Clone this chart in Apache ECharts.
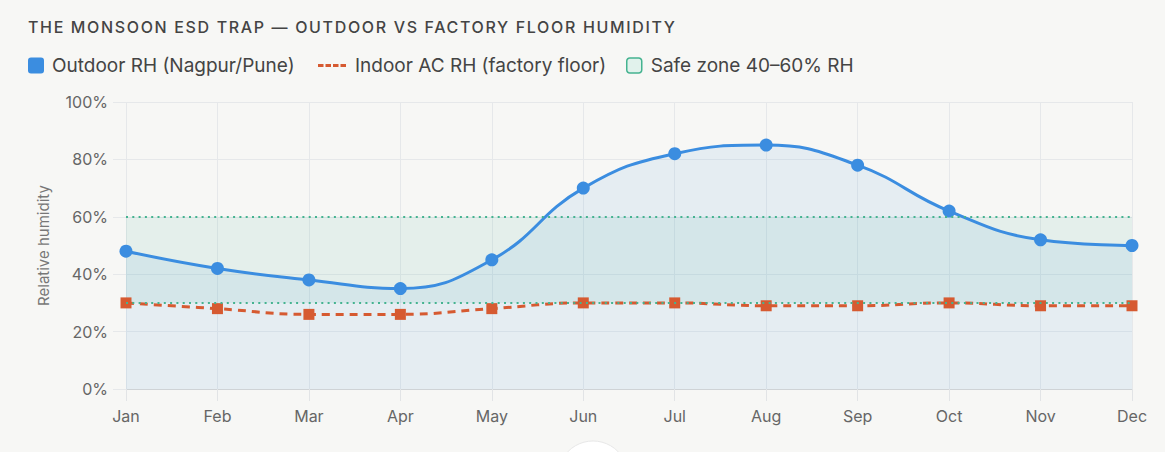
<!DOCTYPE html>
<html><head><meta charset="utf-8">
<script src="https://cdn.jsdelivr.net/npm/echarts@6/dist/echarts.min.js"></script>
<style>html,body{margin:0;padding:0;background:#f7f7f5;}#c{width:1165px;height:452px;}</style>
</head><body><div id="c"></div>
<script>
const months = ['Jan','Feb','Mar','Apr','May','Jun','Jul','Aug','Sep','Oct','Nov','Dec'];
const outdoorRH = [48, 42, 38, 35, 45, 70, 82, 85, 78, 62, 52, 50];
const indoorRH = [30, 28, 26, 26, 28, 30, 30, 29, 29, 30, 29, 29];
const safeLow = 30, safeHigh = 60;

const BLUE = '#3b8de0', ORANGE = '#d65a31', GREEN = '#45b390';
const FONT = 'Inter, "Noto Sans", sans-serif';
const TITLE = 'THE MONSOON ESD TRAP — OUTDOOR VS FACTORY FLOOR HUMIDITY';
const S_OUT = 'Outdoor RH (Nagpur/Pune)';
const S_IN = 'Indoor AC RH (factory floor)';
const S_SAFE = 'Safe zone 40–60% RH';
const legendText = { fontFamily: FONT, fontSize: 19, color: '#444', padding: [0, 0, 0, 3] };

const chart = echarts.init(document.getElementById('c'), null, { renderer: 'svg' });
chart.setOption({
  backgroundColor: '#f7f7f5',
  animation: false,
  title: {
    text: TITLE,
    left: 28, top: 19, padding: 0,
    textStyle: { fontFamily: FONT, fontSize: 16, fontWeight: 500, color: '#444' }
  },
  legend: [
    { left: 28, top: 56, padding: 0, itemWidth: 16, itemHeight: 16, textStyle: legendText,
      data: [{ name: S_OUT, icon: 'path://M3,0h10a3,3 0 0 1 3,3v10a3,3 0 0 1 -3,3h-10a3,3 0 0 1 -3,-3v-10a3,3 0 0 1 3,-3z', itemStyle: { color: BLUE } }] },
    { left: 318, top: 56, padding: 0, itemWidth: 28, itemHeight: 16, textStyle: Object.assign({}, legendText, { padding: [0, 0, 0, 4] }),
      data: [{ name: S_IN, icon: 'path://M0,0h5.5v3h-5.5z M7.5,0h5.5v3h-5.5z M15,0h5.5v3h-5.5z M22.5,0h5.5v3h-5.5z', itemStyle: { color: ORANGE } }] },
    { left: 626, top: 56, padding: 0, itemWidth: 15, itemHeight: 16, textStyle: Object.assign({}, legendText, { padding: [0, 0, 0, 4] }),
      data: [{ name: S_SAFE, icon: 'path://M3,0h9a3,3 0 0 1 3,3v9a3,3 0 0 1 -3,3h-9a3,3 0 0 1 -3,-3v-9a3,3 0 0 1 3,-3z', itemStyle: { color: '#e1f2ec', borderColor: GREEN, borderWidth: 1.5 } }] }
  ],
  grid: { left: 126, right: 33, top: 102, bottom: 63 },
  xAxis: {
    type: 'category', data: months, boundaryGap: false,
    axisLine: { lineStyle: { color: '#cfd3d6' } },
    axisTick: { alignWithLabel: true, length: 12, lineStyle: { color: '#e2e4e6' } },
    axisLabel: { fontFamily: FONT, fontSize: 16, color: '#666', margin: 19 },
    splitLine: { show: true, lineStyle: { color: '#e6e8ea' } }
  },
  yAxis: {
    type: 'value', min: 0, max: 100, interval: 20,
    name: 'Relative humidity', nameLocation: 'middle', nameGap: 75, nameRotate: 90,
    nameTextStyle: { fontFamily: FONT, fontSize: 15, color: '#777' },
    axisLine: { show: false },
    axisTick: { show: true, length: 13, lineStyle: { color: '#e6e8ea' } },
    axisLabel: { fontFamily: FONT, fontSize: 16, color: '#666', margin: 18, formatter: v => v + '%' },
    splitLine: { lineStyle: { color: '#e6e8ea' } }
  },
  series: [
    {
      name: S_SAFE, type: 'line', data: [],
      itemStyle: { color: GREEN },
      markArea: {
        silent: true,
        itemStyle: { color: 'rgba(69,179,144,0.1)' },
        data: [[{ yAxis: safeLow }, { yAxis: safeHigh }]]
      },
      markLine: {
        silent: true, symbol: 'none', label: { show: false },
        lineStyle: { color: GREEN, type: [2, 4.3], width: 2 },
        data: [{ yAxis: safeLow }, { yAxis: safeHigh }]
      }
    },
    {
      name: S_OUT, type: 'line', data: outdoorRH, smooth: 0.45,
      symbol: 'circle', symbolSize: 13,
      itemStyle: { color: BLUE },
      lineStyle: { color: BLUE, width: 3 },
      areaStyle: { color: 'rgba(59,141,224,0.13)' }
    },
    {
      name: S_IN, type: 'line', data: indoorRH, smooth: 0.45,
      symbol: 'rect', symbolSize: 11,
      itemStyle: { color: ORANGE },
      lineStyle: { color: ORANGE, width: 3, type: [8, 6] }
    }
  ],
  graphic: [{
    type: 'circle', shape: { cx: 593, cy: 476, r: 35 },
    style: { fill: '#ffffff', stroke: '#e8e8e8', lineWidth: 1 }, silent: true
  }]
});
// letter-spaced title, as in the reference
document.querySelectorAll('#c svg text').forEach(t => {
  if (t.textContent === TITLE) t.style.letterSpacing = '1.65px';
});
</script></body></html>
